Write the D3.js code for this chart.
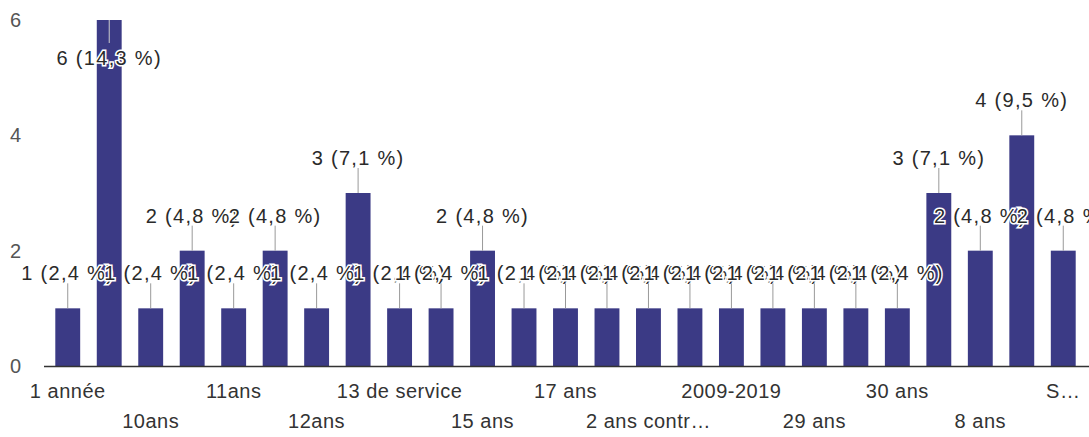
<!DOCTYPE html>
<html>
<head>
<meta charset="utf-8">
<script src="https://cdn.jsdelivr.net/npm/d3@7"></script>
<style>
	body { margin:0; background:#fff; }
	svg text { font-family: Arial, "Liberation Sans", sans-serif; }
</style>
</head>
<body>
<svg id="chart"></svg>
<script>
// answers, sorted the way the form sorts them
var categories = ["1 année","10 ans ","10ans","11 ans","11ans","12 ans","12ans","13 ans",
	"13 de service","14 ans","15 ans","16 ans","17 ans","18 ans","2 ans contractuel","20 ans",
	"2009-2019","25 ans","29 ans","3 ans","30 ans","5 ans","8 ans","9 ans","Sans réponse"];
var counts = [1,6,1,2,1,2,1,3,1,1,2,1,1,1,1,1,1,1,1,1,1,3,2,4,2];
var yTicks = [0,2,4,6];

var Chart = (function(){
	var width = 1089, height = 437;
	var svg;
	var margin = {top:20, right:5, bottom:71, left:47};
	var barColor = "#3b3a85";

	var setup = function(){
		svg = d3.select("#chart")
				.attr("width",width)
				.attr("height",height);
	}

	var pctLabel = function(v,total){
		return v + " (" + d3.format(".1f")(v/total*100).replace(".",",") + " %)";
	}

	// shorten a label with an ellipsis until it fits
	var fit = function(node,full,maxW){
		var t = d3.select(node);
		t.text(full);
		if(node.getComputedTextLength() <= maxW) return;
		for(var n=full.length-1;n>0;n--){
			t.text(full.slice(0,n).trim()+"…");
			if(node.getComputedTextLength() <= maxW) return;
		}
	}

	var render = function(){
		var total = d3.sum(counts);
		var data = categories.map(function(c,i){ return {label:c, value:counts[i], i:i}; });

		var x = d3.scaleBand().domain(d3.range(data.length))
				  .range([margin.left, width-margin.right]).paddingInner(0.4).paddingOuter(0.2);
		var y = d3.scaleLinear().domain([0,6]).range([height-margin.bottom, margin.top]);

		// y labels
		svg.append("g").selectAll("text")
			.data(yTicks)
			.enter()
			.append("text")
			.attr("x",21)
			.attr("y",function(d){ return y(d); })
			.attr("dy","0.35em")
			.attr("text-anchor","end")
			.attr("fill","#555")
			.style("font-size","20px")
			.text(function(d){ return d; });

		svg.append("g").selectAll("rect")
			.data(data)
			.enter()
			.append("rect")
			.attr("x",function(d){ return x(d.i); })
			.attr("width",x.bandwidth())
			.attr("y",function(d){ return y(d.value); })
			.attr("height",function(d){ return y(0)-y(d.value); })
			.attr("fill",barColor);

		svg.append("line")
			.attr("x1",margin.left-3).attr("x2",width)
			.attr("y1",y(0)+0.5).attr("y2",y(0)+0.5)
			.attr("stroke","#333").attr("stroke-width",1.5);

		// annotations, drawn in order so later ones cover earlier ones
		var ann = svg.append("g");
		data.forEach(function(d){
			var cx = x(d.i)+x.bandwidth()/2;
			var top = y(d.value);
			var inside = top-50 < margin.top;
			var stemEnd = inside ? top+23 : top-25;
			var base = inside ? top+45 : top-28;
			ann.append("line")
				.attr("x1",cx).attr("x2",cx)
				.attr("y1",top).attr("y2",stemEnd)
				.attr("stroke",inside ? "#ccc" : "#999")
				.attr("stroke-width",1);
			ann.append("text")
				.attr("x",cx)
				.attr("y",base)
				.attr("text-anchor","middle")
				.attr("fill","#2a2a2a")
				.attr("stroke","#fff")
				.attr("stroke-width",3)
				.attr("paint-order","stroke")
				.style("font-size","20px")
				.style("letter-spacing","1.3px")
				.text(pctLabel(d.value,total));
		});

		// x labels, every other category on two alternating rows
		var step = x.step();
		svg.append("g").selectAll("text")
			.data(data.filter(function(d){ return d.i%2==0; }))
			.enter()
			.append("text")
			.attr("x",function(d){ return x(d.i)+x.bandwidth()/2; })
			.attr("y",function(d){ return (d.i/2)%2==0 ? 398 : 428; })
			.attr("text-anchor","middle")
			.attr("fill","#333")
			.style("font-size","20px")
			.style("letter-spacing","0.5px")
			.each(function(d){
				var cx = x(d.i)+x.bandwidth()/2;
				var maxW = Math.min(step*3.15, 2*(width-4-cx));
				fit(this,d.label,maxW);
			});
	}

	return {
		setup : setup,
		render : render
	}
})();

Chart.setup();
Chart.render();
</script>
</body>
</html>
